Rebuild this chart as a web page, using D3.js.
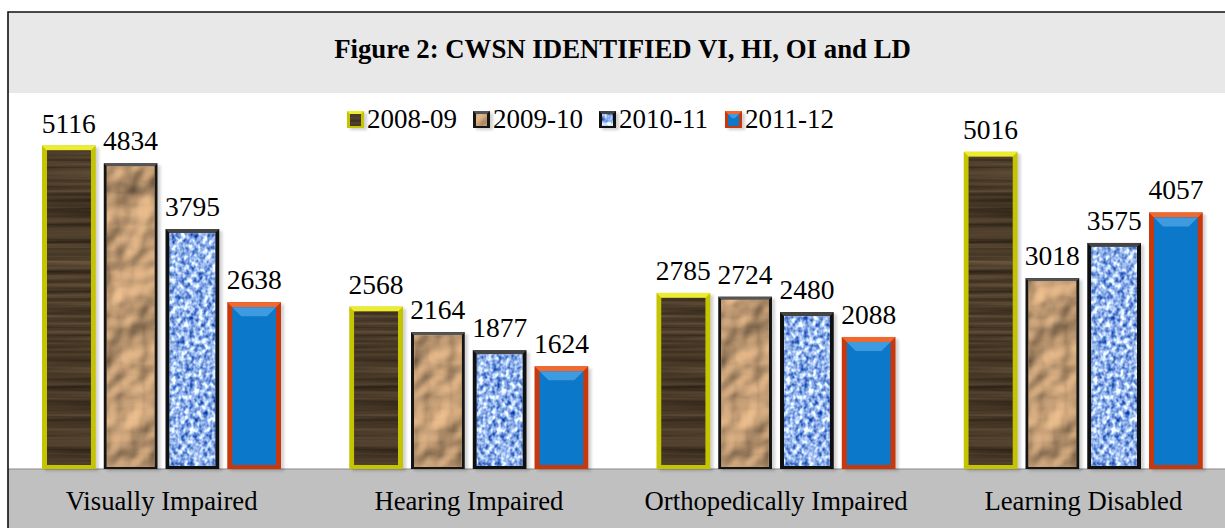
<!DOCTYPE html>
<html>
<head>
<meta charset="utf-8">
<script src="https://cdn.jsdelivr.net/npm/d3@7"></script>
<style>
  body { margin: 0; background: #fff; }
</style>
</head>
<body>
<div id="chart"></div>
<script>
// chart data
var categories = ["Visually Impaired", "Hearing Impaired", "Orthopedically Impaired", "Learning Disabled"];
var years = ["2008-09", "2009-10", "2010-11", "2011-12"];
var v0809 = [5116, 2568, 2785, 5016];
var v0910 = [4834, 2164, 2724, 3018];
var v1011 = [3795, 1877, 2480, 3575];
var v1112 = [2638, 1624, 2088, 4057];
var title = "Figure 2: CWSN IDENTIFIED VI, HI, OI and LD";

var seriesValues = [v0809, v0910, v1011, v1112];

var W = 1225, H = 528;
var frame = {left: 8, top: 12, right: 1237},
    titleBottom = 93,
    baseY = 469;
var serif = "'Liberation Serif', 'Times New Roman', Times, serif";

var svg = d3.select("#chart").append("svg")
    .attr("width", W)
    .attr("height", H)
    .style("font-family", serif);

var defs = svg.append("defs");

function makeFilter(id) {
  return defs.append("filter").attr("id", id)
      .attr("color-interpolation-filters", "sRGB")
      .attr("x", "0").attr("y", "0").attr("width", "1").attr("height", "1");
}

// wood texture for 2008-09
var fWood = makeFilter("wood");
fWood.append("feTurbulence").attr("type", "fractalNoise")
    .attr("baseFrequency", "0.004 0.2").attr("numOctaves", 3).attr("seed", 4).attr("result", "n");
fWood.append("feColorMatrix").attr("in", "n").attr("type", "matrix")
    .attr("values", "0.36 0 0 0 0.11  0.3 0 0 0 0.08  0.22 0 0 0 0.05  0 0 0 0 1").attr("result", "c");
fWood.append("feComposite").attr("in", "c").attr("in2", "SourceGraphic").attr("operator", "in");

// crumpled paper for 2009-10
var fPaper = makeFilter("paper");
fPaper.append("feTurbulence").attr("type", "fractalNoise")
    .attr("baseFrequency", "0.022").attr("numOctaves", 3).attr("seed", 7).attr("result", "n");
var light = fPaper.append("feDiffuseLighting").attr("in", "n").attr("surfaceScale", 7)
    .attr("diffuseConstant", 1.1).attr("lighting-color", "#dcb184").attr("result", "l");
light.append("feDistantLight").attr("azimuth", 225).attr("elevation", 52);
fPaper.append("feComposite").attr("in", "l").attr("in2", "SourceGraphic").attr("operator", "in");

// blue knit for 2010-11
var fKnit = makeFilter("knit");
fKnit.append("feTurbulence").attr("type", "fractalNoise")
    .attr("baseFrequency", "0.22 0.18").attr("numOctaves", 2).attr("seed", 2).attr("result", "n");
fKnit.append("feColorMatrix").attr("in", "n").attr("type", "matrix")
    .attr("values", "1.6 0 0 0 -0.22  1.35 0 0 0 0.03  0.75 0 0 0 0.55  0 0 0 0 1").attr("result", "c");
fKnit.append("feComposite").attr("in", "c").attr("in2", "SourceGraphic").attr("operator", "in");

var blur = defs.append("filter").attr("id", "soft");
blur.append("feGaussianBlur").attr("stdDeviation", 1.5);

// per series look
var looks = [
  {border: "#c4c400", bevel: "#ecec30", b: 5, fill: "#4a3a2a", tex: "wood"},
  {border: "#151515", bevel: "#555", b: 3, fill: "#c9a070", tex: "paper"},
  {border: "#101010", bevel: "#444", b: 4, fill: "#8fb0e6", tex: "knit"},
  {border: "#c8380c", bevel: "#f2682e", b: 5, fill: "#0b78c9", tex: null}
];

// background pieces
svg.append("rect")
    .attr("x", frame.left).attr("y", frame.top)
    .attr("width", frame.right - frame.left).attr("height", titleBottom - frame.top)
    .attr("fill", "#e8e8e8");
svg.append("rect")
    .attr("x", frame.left).attr("y", baseY)
    .attr("width", frame.right - frame.left).attr("height", H - baseY)
    .attr("fill", "#c0c0c0");
svg.append("line")
    .attr("x1", frame.left).attr("x2", frame.right)
    .attr("y1", baseY).attr("y2", baseY)
    .attr("stroke", "#8a8a8a").attr("stroke-width", 1.2);
svg.append("path")
    .attr("d", "M" + frame.left + "," + H + "V" + frame.top + "H" + frame.right)
    .attr("fill", "none").attr("stroke", "#111").attr("stroke-width", 1.6);

// title
svg.append("text")
    .attr("x", (frame.left + frame.right) / 2).attr("y", 58)
    .attr("text-anchor", "middle")
    .style("font-family", serif)
    .style("font-size", "26.8px").style("font-weight", "bold")
    .text(title);

// scales
var x0 = d3.scaleBand().domain(categories).range([frame.left, frame.right]);
var x1 = d3.scaleBand().domain(years).range([34, 273]).paddingInner(0.13);
var y = d3.scaleLinear().domain([0, 6000]).range([baseY, baseY - 6000 * 323.5 / 5116]);

function drawBar(g, x, yTop, w, h, look) {
  g.append("rect").attr("x", x + 3).attr("y", yTop + 2).attr("width", w).attr("height", h)
      .attr("fill", "#000").attr("opacity", 0.18).attr("filter", "url(#soft)");
  g.append("rect").attr("x", x).attr("y", yTop).attr("width", w).attr("height", h)
      .attr("fill", look.border);
  var b = look.b;
  g.append("path")
      .attr("d", "M" + x + "," + yTop + "H" + (x + w) + "L" + (x + w - b) + "," + (yTop + b) +
                 "H" + (x + b) + "Z")
      .attr("fill", look.bevel);
  g.append("rect").attr("x", x + b).attr("y", yTop + b)
      .attr("width", Math.max(0, w - 2 * b)).attr("height", Math.max(0, h - 2 * b + 1))
      .attr("fill", look.fill);
  if (look.tex) {
    g.append("rect").attr("x", x + b).attr("y", yTop + b)
        .attr("width", Math.max(0, w - 2 * b)).attr("height", Math.max(0, h - 2 * b + 1))
        .attr("fill", "#fff").attr("filter", "url(#" + look.tex + ")");
  } else {
    // inner top bevel on plain blue bar
    var ib = Math.min(9, h / 4);
    g.append("path")
        .attr("d", "M" + (x + b) + "," + (yTop + b) + "H" + (x + w - b) + "L" + (x + w - b - ib) + "," +
                   (yTop + b + ib) + "H" + (x + b + ib) + "Z")
        .attr("fill", "#3f9be0");
  }
}

// bars
var groups = svg.selectAll(".grp").data(categories).enter().append("g")
    .attr("class", "grp")
    .attr("transform", function(d) { return "translate(" + x0(d) + ",0)"; });

groups.each(function(cat, ci) {
  var g = d3.select(this);
  years.forEach(function(yr, si) {
    var val = seriesValues[si][ci];
    var bx = x1(yr), bw = x1.bandwidth();
    drawBar(g, bx, y(val), bw, baseY - y(val), looks[si]);
    g.append("text")
        .attr("x", bx + bw / 2).attr("y", y(val) - 13)
        .attr("text-anchor", "middle")
        .style("font-family", serif)
        .style("font-size", "27.5px")
        .text(val);
  });
  g.append("text")
      .attr("x", x0.bandwidth() / 2).attr("y", 510)
      .attr("text-anchor", "middle")
      .style("font-family", serif)
      .style("font-size", "26.7px")
      .text(cat);
});

// legend
var legend = svg.append("g").attr("transform", "translate(347,0)");
years.forEach(function(yr, i) {
  var lg = legend.append("g").attr("transform", "translate(" + (i * 126) + ",0)");
  var lk = Object.assign({}, looks[i], {b: 3});
  drawBar(lg, 0, 111, 17, 17, lk);
  lg.append("text").attr("x", 20).attr("y", 128)
      .style("font-family", serif)
      .style("font-size", "27px")
      .text(yr);
});
</script>
</body>
</html>
